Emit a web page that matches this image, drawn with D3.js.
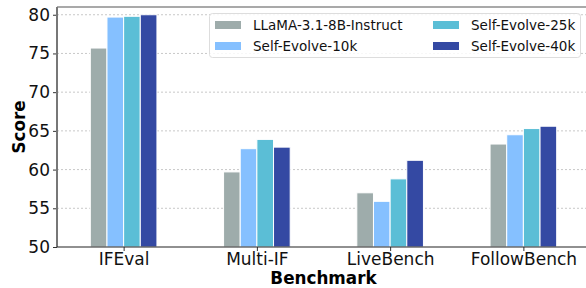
<!DOCTYPE html>
<meta charset="utf-8">
<script src="https://d3js.org/d3.v7.min.js"></script>
<style>
body { margin: 0; background: #fff; }
text { font-family: "DejaVu Sans", sans-serif; }
</style>
<svg id="chart" width="586" height="288"></svg>
<script>
// benchmarks and scores per model
const benchmarks = ["IFEval", "Multi-IF", "LiveBench", "FollowBench"]
const models = ["LLaMA-3.1-8B-Instruct", "Self-Evolve-10k", "Self-Evolve-25k", "Self-Evolve-40k"]
const llama    = [75.7, 59.7, 57.0, 63.3]
const evolve10 = [79.7, 62.7, 55.9, 64.5]
const evolve25 = [79.8, 63.9, 58.8, 65.3]
const evolve40 = [80.0, 62.9, 61.2, 65.6]
const yTicks = [50, 55, 60, 65, 70, 75, 80]

const series = [llama, evolve10, evolve25, evolve40]
const colors = ["#9eacab", "#85c0ff", "#5bbed6", "#3449a3"]

const svg = d3.select("#chart")
const mLeft = 57, mRight = 590, mTop = 7, mBottom = 247

const x = d3.scaleLinear().domain([-0.5, 3.5]).range([mLeft, mRight])
const y = d3.scaleLinear().domain([50, 81]).range([mBottom, mTop])
const barW = 0.125

// grid
svg.append("g")
  .selectAll("line")
  .data(yTicks.slice(1))
  .join("line")
    .attr("x1", mLeft).attr("x2", 586)
    .attr("y1", d => y(d)).attr("y2", d => y(d))
    .attr("stroke", "#c8c8c8")
    .attr("stroke-width", 1)
    .attr("stroke-dasharray", "2,2")

// bars
series.forEach((vals, s) => {
  svg.append("g")
    .selectAll("rect")
    .data(vals)
    .join("rect")
      .attr("x", (d, i) => x(i + (s - 2) * barW))
      .attr("y", d => y(d))
      .attr("width", x(barW) - x(0))
      .attr("height", d => y(50) - y(d))
      .attr("fill", colors[s])
      .attr("stroke", "white")
      .attr("stroke-width", 1)
})

// axes
const yAxis = svg.append("g")
  .attr("transform", `translate(${mLeft},0)`)
  .call(d3.axisLeft(y).tickValues(yTicks).tickSize(4).tickPadding(3))
yAxis.select(".domain").remove()
yAxis.selectAll("text").attr("font-size", 17).attr("fill", "#111")
yAxis.selectAll("line").attr("stroke", "#333")

const xAxis = svg.append("g")
  .attr("transform", `translate(0,${mBottom})`)
  .call(d3.axisBottom(x).tickValues([0, 1, 2, 3]).tickFormat(i => benchmarks[i]).tickSize(4).tickPadding(2))
xAxis.select(".domain").remove()
xAxis.selectAll("text").attr("font-size", 17).attr("fill", "#111")
xAxis.selectAll("line").attr("stroke", "#333")

// spines
svg.append("line").attr("x1", mLeft).attr("x2", 586).attr("y1", mTop).attr("y2", mTop)
  .attr("stroke", "#555").attr("stroke-width", 1.2)
svg.append("line").attr("x1", mLeft).attr("x2", mLeft).attr("y1", mTop).attr("y2", mBottom)
  .attr("stroke", "#777").attr("stroke-width", 2)
svg.append("line").attr("x1", mLeft).attr("x2", 586).attr("y1", mBottom).attr("y2", mBottom)
  .attr("stroke", "#222").attr("stroke-width", 1.2)

// axis labels
svg.append("text")
  .attr("x", x(1.5)).attr("y", 284)
  .attr("text-anchor", "middle")
  .attr("font-size", 16.8).attr("font-weight", "bold")
  .text("Benchmark")
svg.append("text")
  .attr("transform", `translate(25,${(mTop + mBottom) / 2}) rotate(-90)`)
  .attr("text-anchor", "middle")
  .attr("font-size", 16.8).attr("font-weight", "bold")
  .text("Score")

// legend, two columns
const lg = svg.append("g")
lg.append("rect")
  .attr("x", 209.5).attr("y", 13.5).attr("width", 371).attr("height", 44)
  .attr("rx", 3).attr("fill", "white").attr("fill-opacity", 0.85)
  .attr("stroke", "#dddddd")
models.forEach((m, i) => {
  const c = Math.floor(i / 2), r = i % 2
  const lx = c === 0 ? 215 : 433
  const ly = r === 0 ? 25 : 46
  lg.append("rect")
    .attr("x", lx).attr("y", ly - 4).attr("width", 26).attr("height", 8)
    .attr("fill", colors[i])
  lg.append("text")
    .attr("x", lx + 38).attr("y", ly + 5)
    .attr("font-size", 13.5).attr("fill", "#111")
    .text(m)
})
</script>
